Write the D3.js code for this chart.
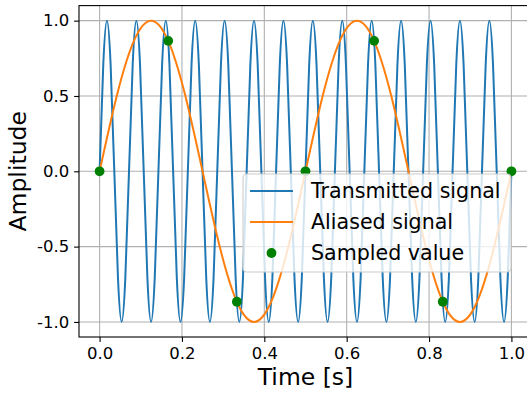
<!DOCTYPE html>
<html><head><meta charset="utf-8">
<script src="https://cdn.jsdelivr.net/npm/d3@7"></script>
<style>body{margin:0;background:#fff;overflow:hidden} text{font-family:"DejaVu Sans",sans-serif}</style>
</head><body><svg id="chart" width="527" height="393"></svg>
<script>
// Transmitted signal (14 Hz), samples
const transmittedTime = [
  0, 0.00893, 0.01786, 0.02679, 0.03571, 0.04464, 0.05357, 0.0625,
  0.07143, 0.08036, 0.08929, 0.09821, 0.10714, 0.11607, 0.125, 0.13393,
  0.14286, 0.15179, 0.16071, 0.16964, 0.17857, 0.1875, 0.19643, 0.20536,
  0.21429, 0.22321, 0.23214, 0.24107, 0.25, 0.25893, 0.26786, 0.27679,
  0.28571, 0.29464, 0.30357, 0.3125, 0.32143, 0.33036, 0.33929, 0.34821,
  0.35714, 0.36607, 0.375, 0.38393, 0.39286, 0.40179, 0.41071, 0.41964,
  0.42857, 0.4375, 0.44643, 0.45536, 0.46429, 0.47321, 0.48214, 0.49107,
  0.5, 0.50893, 0.51786, 0.52679, 0.53571, 0.54464, 0.55357, 0.5625,
  0.57143, 0.58036, 0.58929, 0.59821, 0.60714, 0.61607, 0.625, 0.63393,
  0.64286, 0.65179, 0.66071, 0.66964, 0.67857, 0.6875, 0.69643, 0.70536,
  0.71429, 0.72321, 0.73214, 0.74107, 0.75, 0.75893, 0.76786, 0.77679,
  0.78571, 0.79464, 0.80357, 0.8125, 0.82143, 0.83036, 0.83929, 0.84821,
  0.85714, 0.86607, 0.875, 0.88393, 0.89286, 0.90179, 0.91071, 0.91964,
  0.92857, 0.9375, 0.94643, 0.95536, 0.96429, 0.97321, 0.98214, 0.99107,
  1
];
const transmittedValue = [
  0, 0.7071, 1, 0.7071, 0, -0.7071, -1, -0.7071,
  0, 0.7071, 1, 0.7071, 0, -0.7071, -1, -0.7071,
  0, 0.7071, 1, 0.7071, 0, -0.7071, -1, -0.7071,
  0, 0.7071, 1, 0.7071, 0, -0.7071, -1, -0.7071,
  0, 0.7071, 1, 0.7071, 0, -0.7071, -1, -0.7071,
  0, 0.7071, 1, 0.7071, 0, -0.7071, -1, -0.7071,
  0, 0.7071, 1, 0.7071, 0, -0.7071, -1, -0.7071,
  0, 0.7071, 1, 0.7071, 0, -0.7071, -1, -0.7071,
  0, 0.7071, 1, 0.7071, 0, -0.7071, -1, -0.7071,
  0, 0.7071, 1, 0.7071, 0, -0.7071, -1, -0.7071,
  0, 0.7071, 1, 0.7071, 0, -0.7071, -1, -0.7071,
  0, 0.7071, 1, 0.7071, 0, -0.7071, -1, -0.7071,
  0, 0.7071, 1, 0.7071, 0, -0.7071, -1, -0.7071,
  0, 0.7071, 1, 0.7071, 0, -0.7071, -1, -0.7071,
  0
];
// Aliased signal (2 Hz)
const aliasedTime = [0, 0.04167, 0.08333, 0.125, 0.16667, 0.20833, 0.25, 0.29167,
  0.33333, 0.375, 0.41667, 0.45833, 0.5, 0.54167, 0.58333, 0.625, 0.66667,
  0.70833, 0.75, 0.79167, 0.83333, 0.875, 0.91667, 0.95833, 1];
const aliasedValue = [0, 0.5, 0.866, 1, 0.866, 0.5, 0, -0.5, -0.866, -1, -0.866, -0.5,
  0, 0.5, 0.866, 1, 0.866, 0.5, 0, -0.5, -0.866, -1, -0.866, -0.5, 0];
// Sampled values
const sampleTime = [0, 0.16667, 0.33333, 0.5, 0.66667, 0.83333, 1];
const sampleValue = [0, 0.866, -0.866, 0, 0.866, -0.866, 0];

const xTicks = [0, 0.2, 0.4, 0.6, 0.8, 1.0];
const yTicks = [-1, -0.5, 0, 0.5, 1];
const legendLabels = ["Transmitted signal", "Aliased signal", "Sampled value"];
const seriesColors = ["#1f77b4", "#ff7f0e", "#008000"];
const xLabel = "Time [s]";
const yLabel = "Amplitude";

const svg = d3.select("#chart");
const plot = {left: 79, right: 532, top: 5.6, bottom: 337};
const x = d3.scaleLinear().domain([-0.05, 1.05]).range([plot.left, plot.right]);
const y = d3.scaleLinear().domain([-1.1, 1.1]).range([plot.bottom, plot.top]);
const fmt = d => d.toFixed(1);

// grid
const grid = svg.append("g").attr("stroke", "#b0b0b0").attr("stroke-width", 1.1);
grid.selectAll("line.v").data(xTicks).join("line").attr("class", "v")
  .attr("x1", d => x(d)).attr("x2", d => x(d)).attr("y1", plot.top).attr("y2", plot.bottom);
grid.selectAll("line.h").data(yTicks).join("line").attr("class", "h")
  .attr("x1", plot.left).attr("x2", plot.right).attr("y1", d => y(d)).attr("y2", d => y(d));

// lines
const transmitted = transmittedTime.map((t, i) => [t, transmittedValue[i]]);
const aliased = aliasedTime.map((t, i) => [t, aliasedValue[i]]);
const line = d3.line().x(d => x(d[0])).y(d => y(d[1])).curve(d3.curveNatural);
svg.append("path").datum(transmitted).attr("d", line).attr("fill", "none")
  .attr("stroke", seriesColors[0]).attr("stroke-width", 2);
svg.append("path").datum(aliased).attr("d", line).attr("fill", "none")
  .attr("stroke", seriesColors[1]).attr("stroke-width", 2);
svg.append("g").selectAll("circle").data(sampleTime).join("circle")
  .attr("cx", d => x(d)).attr("cy", (d, i) => y(sampleValue[i])).attr("r", 4.9)
  .attr("fill", seriesColors[2]);

// axes
const xAxis = svg.append("g").attr("transform", `translate(0,${plot.bottom})`)
  .call(d3.axisBottom(x).tickValues(xTicks).tickFormat(fmt).tickSize(4.9).tickPadding(4.9));
const yAxis = svg.append("g").attr("transform", `translate(${plot.left},0)`)
  .call(d3.axisLeft(y).tickValues(yTicks).tickFormat(fmt).tickSize(4.9).tickPadding(4.9));
[xAxis, yAxis].forEach(a => {
  a.select(".domain").remove();
  a.attr("font-family", "DejaVu Sans").attr("font-size", 16.5);
  a.selectAll("line").attr("stroke", "#000").attr("stroke-width", 1.1);
  a.selectAll("text").attr("fill", "#000");
});

// spines
const spines = svg.append("g").attr("stroke", "#000").attr("stroke-width", 1.1).attr("fill", "none");
spines.append("rect").attr("x", plot.left).attr("y", plot.top)
  .attr("width", plot.right - plot.left).attr("height", plot.bottom - plot.top);

// axis labels
svg.append("text").attr("x", (plot.left + plot.right) / 2).attr("y", 385)
  .attr("text-anchor", "middle").attr("font-size", 23.5).text(xLabel);
svg.append("text").attr("transform", `translate(26,${(plot.top + plot.bottom) / 2}) rotate(-90)`)
  .attr("text-anchor", "middle").attr("font-size", 23.5).text(yLabel);

// legend
const lg = svg.append("g");
lg.append("rect").attr("x", 243).attr("y", 174).attr("width", 268).attr("height", 98)
  .attr("rx", 4).attr("fill", "#fff").attr("fill-opacity", 0.8)
  .attr("stroke", "#cccccc").attr("stroke-width", 1.1);
const rowY = [191, 222, 253];
legendLabels.forEach((lab, i) => {
  if (i < 2) {
    lg.append("line").attr("x1", 250).attr("x2", 293).attr("y1", rowY[i]).attr("y2", rowY[i])
      .attr("stroke", seriesColors[i]).attr("stroke-width", 2);
  } else {
    lg.append("circle").attr("cx", 271.5).attr("cy", rowY[i]).attr("r", 4.9).attr("fill", seriesColors[i]);
  }
  lg.append("text").attr("x", 311).attr("y", rowY[i] + 7.3).attr("font-size", 20.6).text(lab);
});
</script></body></html>
